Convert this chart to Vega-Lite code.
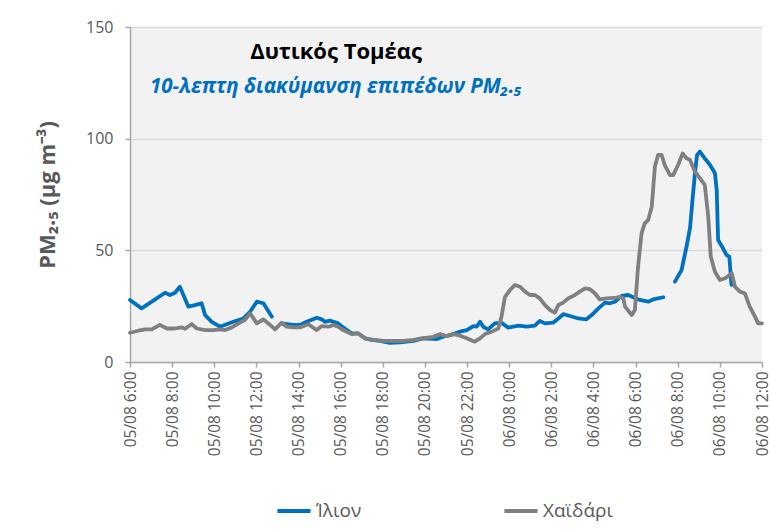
{
  "$schema": "https://vega.github.io/schema/vega-lite/v6.json",
  "autosize": "none",
  "width": 632,
  "height": 335,
  "padding": {"left": 130, "top": 27, "right": 9, "bottom": 169},
  "background": "white",
  "datasets": {
    "pm": [
      {"t": "2023-08-05T06:00", "v": 27.8, "s": "Ίλιον"},
      {"t": "2023-08-05T06:33", "v": 24, "s": "Ίλιον"},
      {"t": "2023-08-05T07:16", "v": 28.5, "s": "Ίλιον"},
      {"t": "2023-08-05T07:40", "v": 31, "s": "Ίλιον"},
      {"t": "2023-08-05T07:54", "v": 30, "s": "Ίλιον"},
      {"t": "2023-08-05T08:08", "v": 31, "s": "Ίλιον"},
      {"t": "2023-08-05T08:22", "v": 33.7, "s": "Ίλιον"},
      {"t": "2023-08-05T08:46", "v": 24.8, "s": "Ίλιον"},
      {"t": "2023-08-05T09:05", "v": 25.5, "s": "Ίλιον"},
      {"t": "2023-08-05T09:24", "v": 26.3, "s": "Ίλιον"},
      {"t": "2023-08-05T09:34", "v": 21, "s": "Ίλιον"},
      {"t": "2023-08-05T09:53", "v": 18, "s": "Ίλιον"},
      {"t": "2023-08-05T10:16", "v": 15.8, "s": "Ίλιον"},
      {"t": "2023-08-05T10:54", "v": 18, "s": "Ίλιον"},
      {"t": "2023-08-05T11:23", "v": 19.5, "s": "Ίλιον"},
      {"t": "2023-08-05T11:42", "v": 22.5, "s": "Ίλιον"},
      {"t": "2023-08-05T12:01", "v": 27, "s": "Ίλιον"},
      {"t": "2023-08-05T12:20", "v": 26.3, "s": "Ίλιον"},
      {"t": "2023-08-05T12:44", "v": 20.3, "s": "Ίλιον"},
      {"t": "2023-08-05T12:55", "v": null, "s": "Ίλιον"},
      {"t": "2023-08-05T13:12", "v": 17.3, "s": "Ίλιον"},
      {"t": "2023-08-05T13:45", "v": 16.6, "s": "Ίλιον"},
      {"t": "2023-08-05T14:04", "v": 16.6, "s": "Ίλιον"},
      {"t": "2023-08-05T14:23", "v": 18, "s": "Ίλιον"},
      {"t": "2023-08-05T14:52", "v": 19.8, "s": "Ίλιον"},
      {"t": "2023-08-05T15:06", "v": 19.1, "s": "Ίλιον"},
      {"t": "2023-08-05T15:15", "v": 18, "s": "Ίλιον"},
      {"t": "2023-08-05T15:29", "v": 18.5, "s": "Ίλιον"},
      {"t": "2023-08-05T15:53", "v": 17.3, "s": "Ίλιον"},
      {"t": "2023-08-05T16:07", "v": 15.5, "s": "Ίλιον"},
      {"t": "2023-08-05T16:31", "v": 12.8, "s": "Ίλιον"},
      {"t": "2023-08-05T16:50", "v": 12.8, "s": "Ίλιον"},
      {"t": "2023-08-05T17:09", "v": 10.6, "s": "Ίλιον"},
      {"t": "2023-08-05T17:28", "v": 9.9, "s": "Ίλιον"},
      {"t": "2023-08-05T17:52", "v": 9.5, "s": "Ίλιον"},
      {"t": "2023-08-05T18:20", "v": 8.6, "s": "Ίλιον"},
      {"t": "2023-08-05T18:49", "v": 8.8, "s": "Ίλιον"},
      {"t": "2023-08-05T19:27", "v": 9.5, "s": "Ίλιον"},
      {"t": "2023-08-05T19:55", "v": 10.6, "s": "Ίλιον"},
      {"t": "2023-08-05T20:33", "v": 10.2, "s": "Ίλιον"},
      {"t": "2023-08-05T20:52", "v": 11.3, "s": "Ίλιον"},
      {"t": "2023-08-05T21:21", "v": 12.5, "s": "Ίλιον"},
      {"t": "2023-08-05T21:40", "v": 13.6, "s": "Ίλιον"},
      {"t": "2023-08-05T21:59", "v": 14.3, "s": "Ίλιον"},
      {"t": "2023-08-05T22:18", "v": 16.1, "s": "Ίλιον"},
      {"t": "2023-08-05T22:27", "v": 15.8, "s": "Ίλιον"},
      {"t": "2023-08-05T22:37", "v": 18, "s": "Ίλιον"},
      {"t": "2023-08-05T22:46", "v": 15.8, "s": "Ίλιον"},
      {"t": "2023-08-05T23:00", "v": 14.6, "s": "Ίλιον"},
      {"t": "2023-08-05T23:19", "v": 17.3, "s": "Ίλιον"},
      {"t": "2023-08-05T23:38", "v": 17.6, "s": "Ίλιον"},
      {"t": "2023-08-05T23:57", "v": 15.4, "s": "Ίλιον"},
      {"t": "2023-08-06T00:26", "v": 16.3, "s": "Ίλιον"},
      {"t": "2023-08-06T00:50", "v": 15.8, "s": "Ίλιον"},
      {"t": "2023-08-06T01:13", "v": 16.3, "s": "Ίλιον"},
      {"t": "2023-08-06T01:27", "v": 18.4, "s": "Ίλιον"},
      {"t": "2023-08-06T01:42", "v": 17.3, "s": "Ίλιον"},
      {"t": "2023-08-06T02:05", "v": 17.6, "s": "Ίλιον"},
      {"t": "2023-08-06T02:20", "v": 19.5, "s": "Ίλιον"},
      {"t": "2023-08-06T02:34", "v": 21.4, "s": "Ίλιον"},
      {"t": "2023-08-06T02:53", "v": 20.6, "s": "Ίλιον"},
      {"t": "2023-08-06T03:17", "v": 19.5, "s": "Ίλιον"},
      {"t": "2023-08-06T03:40", "v": 19.1, "s": "Ίλιον"},
      {"t": "2023-08-06T03:55", "v": 21, "s": "Ίλιον"},
      {"t": "2023-08-06T04:14", "v": 24, "s": "Ίλιον"},
      {"t": "2023-08-06T04:33", "v": 26.6, "s": "Ίλιον"},
      {"t": "2023-08-06T04:47", "v": 26.3, "s": "Ίλιον"},
      {"t": "2023-08-06T05:01", "v": 27, "s": "Ίλιον"},
      {"t": "2023-08-06T05:20", "v": 29.6, "s": "Ίλιον"},
      {"t": "2023-08-06T05:39", "v": 30, "s": "Ίλιον"},
      {"t": "2023-08-06T05:53", "v": 29, "s": "Ίλιον"},
      {"t": "2023-08-06T06:12", "v": 27.8, "s": "Ίλιον"},
      {"t": "2023-08-06T06:36", "v": 27, "s": "Ίλιον"},
      {"t": "2023-08-06T06:50", "v": 28, "s": "Ίλιον"},
      {"t": "2023-08-06T07:19", "v": 29, "s": "Ίλιον"},
      {"t": "2023-08-06T07:35", "v": null, "s": "Ίλιον"},
      {"t": "2023-08-06T07:52", "v": 36, "s": "Ίλιον"},
      {"t": "2023-08-06T08:11", "v": 41.2, "s": "Ίλιον"},
      {"t": "2023-08-06T08:25", "v": 51.6, "s": "Ίλιον"},
      {"t": "2023-08-06T08:35", "v": 59.9, "s": "Ίλιον"},
      {"t": "2023-08-06T08:42", "v": 72.5, "s": "Ίλιον"},
      {"t": "2023-08-06T08:49", "v": 84.5, "s": "Ίλιον"},
      {"t": "2023-08-06T08:55", "v": 92.7, "s": "Ίλιον"},
      {"t": "2023-08-06T09:03", "v": 94.2, "s": "Ίλιον"},
      {"t": "2023-08-06T09:17", "v": 91.2, "s": "Ίλιον"},
      {"t": "2023-08-06T09:32", "v": 88.2, "s": "Ίλιον"},
      {"t": "2023-08-06T09:46", "v": 84.5, "s": "Ίλιον"},
      {"t": "2023-08-06T09:51", "v": 77, "s": "Ίλιον"},
      {"t": "2023-08-06T09:55", "v": 54.6, "s": "Ίλιον"},
      {"t": "2023-08-06T10:09", "v": 50.9, "s": "Ίλιον"},
      {"t": "2023-08-06T10:19", "v": 47.9, "s": "Ίλιον"},
      {"t": "2023-08-06T10:27", "v": 47.2, "s": "Ίλιον"},
      {"t": "2023-08-06T10:33", "v": 34.5, "s": "Ίλιον"},
      {"t": "2023-08-05T06:00", "v": 13.1, "s": "Χαϊδάρι"},
      {"t": "2023-08-05T06:24", "v": 14, "s": "Χαϊδάρι"},
      {"t": "2023-08-05T06:43", "v": 14.6, "s": "Χαϊδάρι"},
      {"t": "2023-08-05T07:02", "v": 14.6, "s": "Χαϊδάρι"},
      {"t": "2023-08-05T07:25", "v": 16.6, "s": "Χαϊδάρι"},
      {"t": "2023-08-05T07:45", "v": 15, "s": "Χαϊδάρι"},
      {"t": "2023-08-05T08:08", "v": 15, "s": "Χαϊδάρι"},
      {"t": "2023-08-05T08:27", "v": 15.5, "s": "Χαϊδάρι"},
      {"t": "2023-08-05T08:37", "v": 14.9, "s": "Χαϊδάρι"},
      {"t": "2023-08-05T08:56", "v": 17, "s": "Χαϊδάρι"},
      {"t": "2023-08-05T09:10", "v": 15, "s": "Χαϊδάρι"},
      {"t": "2023-08-05T09:34", "v": 14.3, "s": "Χαϊδάρι"},
      {"t": "2023-08-05T09:57", "v": 14.3, "s": "Χαϊδάρι"},
      {"t": "2023-08-05T10:16", "v": 14.6, "s": "Χαϊδάρι"},
      {"t": "2023-08-05T10:31", "v": 14.3, "s": "Χαϊδάρι"},
      {"t": "2023-08-05T10:50", "v": 15.5, "s": "Χαϊδάρι"},
      {"t": "2023-08-05T11:13", "v": 17.6, "s": "Χαϊδάρι"},
      {"t": "2023-08-05T11:27", "v": 18.8, "s": "Χαϊδάρι"},
      {"t": "2023-08-05T11:42", "v": 21.8, "s": "Χαϊδάρι"},
      {"t": "2023-08-05T12:01", "v": 17.3, "s": "Χαϊδάρι"},
      {"t": "2023-08-05T12:20", "v": 19.1, "s": "Χαϊδάρι"},
      {"t": "2023-08-05T12:39", "v": 16.6, "s": "Χαϊδάρι"},
      {"t": "2023-08-05T12:53", "v": 14.6, "s": "Χαϊδάρι"},
      {"t": "2023-08-05T13:12", "v": 17.6, "s": "Χαϊδάρι"},
      {"t": "2023-08-05T13:26", "v": 15.8, "s": "Χαϊδάρι"},
      {"t": "2023-08-05T13:45", "v": 15.5, "s": "Χαϊδάρι"},
      {"t": "2023-08-05T14:04", "v": 15.5, "s": "Χαϊδάρι"},
      {"t": "2023-08-05T14:28", "v": 16.9, "s": "Χαϊδάρι"},
      {"t": "2023-08-05T14:52", "v": 14.3, "s": "Χαϊδάρι"},
      {"t": "2023-08-05T15:06", "v": 16.1, "s": "Χαϊδάρι"},
      {"t": "2023-08-05T15:25", "v": 15.8, "s": "Χαϊδάρι"},
      {"t": "2023-08-05T15:39", "v": 16.6, "s": "Χαϊδάρι"},
      {"t": "2023-08-05T15:53", "v": 15.8, "s": "Χαϊδάρι"},
      {"t": "2023-08-05T16:07", "v": 14.3, "s": "Χαϊδάρι"},
      {"t": "2023-08-05T16:31", "v": 12.5, "s": "Χαϊδάρι"},
      {"t": "2023-08-05T16:50", "v": 12.8, "s": "Χαϊδάρι"},
      {"t": "2023-08-05T17:09", "v": 10.6, "s": "Χαϊδάρι"},
      {"t": "2023-08-05T17:33", "v": 9.9, "s": "Χαϊδάρι"},
      {"t": "2023-08-05T18:01", "v": 9.5, "s": "Χαϊδάρι"},
      {"t": "2023-08-05T18:30", "v": 9.4, "s": "Χαϊδάρι"},
      {"t": "2023-08-05T18:58", "v": 9.5, "s": "Χαϊδάρι"},
      {"t": "2023-08-05T19:27", "v": 9.9, "s": "Χαϊδάρι"},
      {"t": "2023-08-05T19:51", "v": 10.6, "s": "Χαϊδάρι"},
      {"t": "2023-08-05T20:24", "v": 11.3, "s": "Χαϊδάρι"},
      {"t": "2023-08-05T20:43", "v": 12.5, "s": "Χαϊδάρι"},
      {"t": "2023-08-05T21:02", "v": 11.6, "s": "Χαϊδάρι"},
      {"t": "2023-08-05T21:21", "v": 12.5, "s": "Χαϊδάρι"},
      {"t": "2023-08-05T21:40", "v": 11.8, "s": "Χαϊδάρι"},
      {"t": "2023-08-05T21:59", "v": 10.6, "s": "Χαϊδάρι"},
      {"t": "2023-08-05T22:22", "v": 9.1, "s": "Χαϊδάρι"},
      {"t": "2023-08-05T22:37", "v": 10.6, "s": "Χαϊδάρι"},
      {"t": "2023-08-05T22:51", "v": 12.5, "s": "Χαϊδάρι"},
      {"t": "2023-08-05T23:10", "v": 13.6, "s": "Χαϊδάρι"},
      {"t": "2023-08-05T23:29", "v": 15, "s": "Χαϊδάρι"},
      {"t": "2023-08-05T23:38", "v": 20.3, "s": "Χαϊδάρι"},
      {"t": "2023-08-05T23:48", "v": 29.2, "s": "Χαϊδάρι"},
      {"t": "2023-08-06T00:02", "v": 32.2, "s": "Χαϊδάρι"},
      {"t": "2023-08-06T00:16", "v": 34.5, "s": "Χαϊδάρι"},
      {"t": "2023-08-06T00:31", "v": 33.7, "s": "Χαϊδάρι"},
      {"t": "2023-08-06T00:45", "v": 31.5, "s": "Χαϊδάρι"},
      {"t": "2023-08-06T00:59", "v": 30, "s": "Χαϊδάρι"},
      {"t": "2023-08-06T01:13", "v": 30, "s": "Χαϊδάρι"},
      {"t": "2023-08-06T01:27", "v": 28.5, "s": "Χαϊδάρι"},
      {"t": "2023-08-06T01:42", "v": 25.5, "s": "Χαϊδάρι"},
      {"t": "2023-08-06T01:56", "v": 23.3, "s": "Χαϊδάρι"},
      {"t": "2023-08-06T02:10", "v": 22.1, "s": "Χαϊδάρι"},
      {"t": "2023-08-06T02:20", "v": 25.5, "s": "Χαϊδάρι"},
      {"t": "2023-08-06T02:34", "v": 26.6, "s": "Χαϊδάρι"},
      {"t": "2023-08-06T02:48", "v": 28.5, "s": "Χαϊδάρι"},
      {"t": "2023-08-06T03:07", "v": 30, "s": "Χαϊδάρι"},
      {"t": "2023-08-06T03:21", "v": 31.5, "s": "Χαϊδάρι"},
      {"t": "2023-08-06T03:36", "v": 33, "s": "Χαϊδάρι"},
      {"t": "2023-08-06T03:50", "v": 32.6, "s": "Χαϊδάρι"},
      {"t": "2023-08-06T04:04", "v": 30.8, "s": "Χαϊδάρι"},
      {"t": "2023-08-06T04:18", "v": 28, "s": "Χαϊδάρι"},
      {"t": "2023-08-06T04:37", "v": 28.5, "s": "Χαϊδάρι"},
      {"t": "2023-08-06T05:06", "v": 28.8, "s": "Χαϊδάρι"},
      {"t": "2023-08-06T05:15", "v": 29.2, "s": "Χαϊδάρι"},
      {"t": "2023-08-06T05:25", "v": 28.5, "s": "Χαϊδάρι"},
      {"t": "2023-08-06T05:30", "v": 24.8, "s": "Χαϊδάρι"},
      {"t": "2023-08-06T05:49", "v": 21, "s": "Χαϊδάρι"},
      {"t": "2023-08-06T05:58", "v": 23.3, "s": "Χαϊδάρι"},
      {"t": "2023-08-06T06:07", "v": 42.7, "s": "Χαϊδάρι"},
      {"t": "2023-08-06T06:17", "v": 57.6, "s": "Χαϊδάρι"},
      {"t": "2023-08-06T06:26", "v": 62.1, "s": "Χαϊδάρι"},
      {"t": "2023-08-06T06:36", "v": 63.6, "s": "Χαϊδάρι"},
      {"t": "2023-08-06T06:46", "v": 69.5, "s": "Χαϊδάρι"},
      {"t": "2023-08-06T06:55", "v": 87.5, "s": "Χαϊδάρι"},
      {"t": "2023-08-06T07:04", "v": 92.7, "s": "Χαϊδάρι"},
      {"t": "2023-08-06T07:14", "v": 92.7, "s": "Χαϊδάρι"},
      {"t": "2023-08-06T07:23", "v": 88.2, "s": "Χαϊδάρι"},
      {"t": "2023-08-06T07:38", "v": 83.7, "s": "Χαϊδάρι"},
      {"t": "2023-08-06T07:47", "v": 83.7, "s": "Χαϊδάρι"},
      {"t": "2023-08-06T08:01", "v": 88.2, "s": "Χαϊδάρι"},
      {"t": "2023-08-06T08:14", "v": 93.4, "s": "Χαϊδάρι"},
      {"t": "2023-08-06T08:25", "v": 91.2, "s": "Χαϊδάρι"},
      {"t": "2023-08-06T08:35", "v": 90.5, "s": "Χαϊδάρι"},
      {"t": "2023-08-06T08:49", "v": 85.2, "s": "Χαϊδάρι"},
      {"t": "2023-08-06T09:03", "v": 82.3, "s": "Χαϊδάρι"},
      {"t": "2023-08-06T09:17", "v": 79.3, "s": "Χαϊδάρι"},
      {"t": "2023-08-06T09:27", "v": 65, "s": "Χαϊδάρι"},
      {"t": "2023-08-06T09:34", "v": 47.2, "s": "Χαϊδάρι"},
      {"t": "2023-08-06T09:46", "v": 40.4, "s": "Χαϊδάρι"},
      {"t": "2023-08-06T10:00", "v": 36.7, "s": "Χαϊδάρι"},
      {"t": "2023-08-06T10:15", "v": 37.5, "s": "Χαϊδάρι"},
      {"t": "2023-08-06T10:34", "v": 39.7, "s": "Χαϊδάρι"},
      {"t": "2023-08-06T10:43", "v": 33.7, "s": "Χαϊδάρι"},
      {"t": "2023-08-06T10:57", "v": 31.5, "s": "Χαϊδάρι"},
      {"t": "2023-08-06T11:11", "v": 30.8, "s": "Χαϊδάρι"},
      {"t": "2023-08-06T11:25", "v": 24.8, "s": "Χαϊδάρι"},
      {"t": "2023-08-06T11:40", "v": 20.3, "s": "Χαϊδάρι"},
      {"t": "2023-08-06T11:49", "v": 17.3, "s": "Χαϊδάρι"},
      {"t": "2023-08-06T12:00", "v": 17.3, "s": "Χαϊδάρι"}
    ]
  },
  "layer": [
    {
      "data": {"name": "pm"},
      "mark": {"type": "line", "strokeWidth": 3.8, "strokeJoin": "round", "strokeCap": "round"},
      "encoding": {
        "x": {
          "field": "t",
          "type": "temporal",
          "scale": {"nice": false},
          "axis": {
            "title": null,
            "format": "%d/%m %-H:%M",
            "values": [
              {"year": 2023, "month": 8, "date": 5, "hours": 6},
              {"year": 2023, "month": 8, "date": 5, "hours": 7},
              {"year": 2023, "month": 8, "date": 5, "hours": 8},
              {"year": 2023, "month": 8, "date": 5, "hours": 9},
              {"year": 2023, "month": 8, "date": 5, "hours": 10},
              {"year": 2023, "month": 8, "date": 5, "hours": 11},
              {"year": 2023, "month": 8, "date": 5, "hours": 12},
              {"year": 2023, "month": 8, "date": 5, "hours": 13},
              {"year": 2023, "month": 8, "date": 5, "hours": 14},
              {"year": 2023, "month": 8, "date": 5, "hours": 15},
              {"year": 2023, "month": 8, "date": 5, "hours": 16},
              {"year": 2023, "month": 8, "date": 5, "hours": 17},
              {"year": 2023, "month": 8, "date": 5, "hours": 18},
              {"year": 2023, "month": 8, "date": 5, "hours": 19},
              {"year": 2023, "month": 8, "date": 5, "hours": 20},
              {"year": 2023, "month": 8, "date": 5, "hours": 21},
              {"year": 2023, "month": 8, "date": 5, "hours": 22},
              {"year": 2023, "month": 8, "date": 5, "hours": 23},
              {"year": 2023, "month": 8, "date": 6, "hours": 0},
              {"year": 2023, "month": 8, "date": 6, "hours": 1},
              {"year": 2023, "month": 8, "date": 6, "hours": 2},
              {"year": 2023, "month": 8, "date": 6, "hours": 3},
              {"year": 2023, "month": 8, "date": 6, "hours": 4},
              {"year": 2023, "month": 8, "date": 6, "hours": 5},
              {"year": 2023, "month": 8, "date": 6, "hours": 6},
              {"year": 2023, "month": 8, "date": 6, "hours": 7},
              {"year": 2023, "month": 8, "date": 6, "hours": 8},
              {"year": 2023, "month": 8, "date": 6, "hours": 9},
              {"year": 2023, "month": 8, "date": 6, "hours": 10},
              {"year": 2023, "month": 8, "date": 6, "hours": 11},
              {"year": 2023, "month": 8, "date": 6, "hours": 12}
            ],
            "labelExpr": "(datum.value / 3600000) % 2 === 0 ? datum.label : ''",
            "labelAngle": -90,
            "labelFontSize": 15.5,
            "labelPadding": 4,
            "grid": false,
            "tickSize": 5
          }
        },
        "y": {
          "field": "v",
          "type": "quantitative",
          "scale": {"domain": [0, 150], "nice": false},
          "axis": {
            "title": "PM₂.₅ (μg m⁻³)",
            "values": [0, 50, 100, 150],
            "grid": true,
            "gridColor": "#d9d9d9",
            "gridWidth": 1.5,
            "labelOverlap": false,
            "tickSize": 5,
            "labelFontSize": 16,
            "labelPadding": 12,
            "titlePadding": 26,
            "titleFontSize": 22,
            "titleFontWeight": "bold",
            "titleColor": "#595959"
          }
        },
        "color": {
          "field": "s",
          "type": "nominal",
          "scale": {"domain": ["Ίλιον", "Χαϊδάρι"], "range": ["#0070C0", "#808080"]},
          "legend": {
            "title": null,
            "orient": "none",
            "legendX": 145,
            "legendY": 465,
            "direction": "horizontal",
            "symbolType": "stroke",
            "symbolStrokeWidth": 4,
            "symbolSize": 1100,
            "labelOffset": 3,
            "columnPadding": 134,
            "labelFontSize": 19,
            "labelColor": "#595959"
          }
        }
      }
    },
    {
      "data": {"values": [{}]},
      "mark": {"type": "text", "font": "Open Sans", "fontSize": 22, "fontWeight": "bold", "color": "black", "align": "center", "baseline": "middle"},
      "encoding": {
        "x": {"datum": {"year": 2023, "month": 8, "date": 5, "hours": 15, "minutes": 47}, "type": "temporal"},
        "y": {"datum": 138.8, "type": "quantitative"},
        "text": {"value": "Δυτικός Τομέας"}
      }
    },
    {
      "data": {"values": [{}]},
      "mark": {"type": "text", "font": "Open Sans", "fontSize": 20.5, "fontWeight": "bold", "fontStyle": "italic", "color": "#0070C0", "align": "center", "baseline": "middle"},
      "encoding": {
        "x": {"datum": {"year": 2023, "month": 8, "date": 5, "hours": 15, "minutes": 47}, "type": "temporal"},
        "y": {"datum": 123.2, "type": "quantitative"},
        "text": {"value": "10-λεπτη διακύμανση επιπέδων PM₂.₅"}
      }
    }
  ],
  "config": {
    "font": "Open Sans",
    "view": {"fill": "#f2f2f2", "stroke": null},
    "axis": {
      "labelFont": "Open Sans",
      "titleFont": "Open Sans",
      "labelFontSize": 14,
      "labelColor": "#595959",
      "domainColor": "#a6a6a6",
      "domainWidth": 1.5,
      "tickColor": "#a6a6a6",
      "tickWidth": 1.5
    },
    "legend": {"labelFont": "Open Sans"}
  }
}
